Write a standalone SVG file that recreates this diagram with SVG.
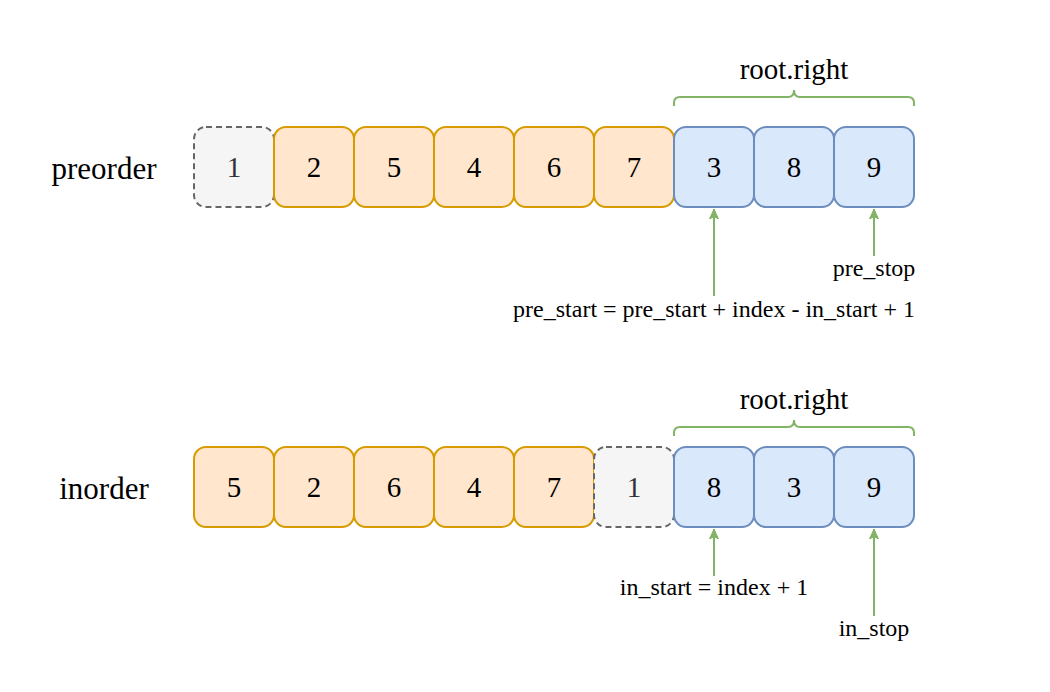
<svg xmlns="http://www.w3.org/2000/svg" width="1050" height="692" viewBox="0 0 1050 692">
<style>
text{font-family:"Liberation Serif","DejaVu Serif","Times New Roman",serif;fill:#000;text-anchor:middle;dominant-baseline:central}
.n{font-size:29px}
.lab{font-size:31px}
.br{font-size:29px}
.t{font-size:24px}
.o{fill:#ffe6cc;stroke:#d79b00;stroke-width:2}
.b{fill:#dae8fc;stroke:#6c8ebf;stroke-width:2}
.g{fill:#f5f5f5;stroke:#666666;stroke-width:2;stroke-dasharray:6 4}
.gt{fill:#333}
.c{fill:none;stroke:#82b366;stroke-width:2}
</style>
<defs>
<marker id="ah" markerWidth="12" markerHeight="12" refX="10" refY="5" orient="auto" markerUnits="userSpaceOnUse" viewBox="0 0 12 10">
<path d="M0,0.5 L10,5 L0,9.5 L2.5,5 Z" fill="#82b366" stroke="#82b366" stroke-width="1"/>
</marker>
</defs>
<rect width="1050" height="692" fill="#fff"/>
<text class="lab" x="104" y="168">preorder</text>
<text class="lab" x="104" y="488">inorder</text>
<g id="pre1"><rect class="g" x="194" y="127" width="80" height="80" rx="12"/><text class="n gt" x="234" y="167">1</text></g>
<g id="pre2"><rect class="o" x="274" y="127" width="80" height="80" rx="12"/><text class="n" x="314" y="167">2</text></g>
<g id="pre5"><rect class="o" x="354" y="127" width="80" height="80" rx="12"/><text class="n" x="394" y="167">5</text></g>
<g id="pre4"><rect class="o" x="434" y="127" width="80" height="80" rx="12"/><text class="n" x="474" y="167">4</text></g>
<g id="pre6"><rect class="o" x="514" y="127" width="80" height="80" rx="12"/><text class="n" x="554" y="167">6</text></g>
<g id="pre7"><rect class="o" x="594" y="127" width="80" height="80" rx="12"/><text class="n" x="634" y="167">7</text></g>
<g id="pre3"><rect class="b" x="674" y="127" width="80" height="80" rx="12"/><text class="n" x="714" y="167">3</text></g>
<g id="pre8"><rect class="b" x="754" y="127" width="80" height="80" rx="12"/><text class="n" x="794" y="167">8</text></g>
<g id="pre9"><rect class="b" x="834" y="127" width="80" height="80" rx="12"/><text class="n" x="874" y="167">9</text></g>
<g id="in5"><rect class="o" x="194" y="447" width="80" height="80" rx="12"/><text class="n" x="234" y="487">5</text></g>
<g id="in2"><rect class="o" x="274" y="447" width="80" height="80" rx="12"/><text class="n" x="314" y="487">2</text></g>
<g id="in6"><rect class="o" x="354" y="447" width="80" height="80" rx="12"/><text class="n" x="394" y="487">6</text></g>
<g id="in4"><rect class="o" x="434" y="447" width="80" height="80" rx="12"/><text class="n" x="474" y="487">4</text></g>
<g id="in7"><rect class="o" x="514" y="447" width="80" height="80" rx="12"/><text class="n" x="554" y="487">7</text></g>
<g id="in1"><rect class="g" x="594" y="447" width="80" height="80" rx="12"/><text class="n gt" x="634" y="487">1</text></g>
<g id="in8"><rect class="b" x="674" y="447" width="80" height="80" rx="12"/><text class="n" x="714" y="487">8</text></g>
<g id="in3"><rect class="b" x="754" y="447" width="80" height="80" rx="12"/><text class="n" x="794" y="487">3</text></g>
<g id="in9"><rect class="b" x="834" y="447" width="80" height="80" rx="12"/><text class="n" x="874" y="487">9</text></g>
<g id="brace-pre">
<path class="c" d="M674,106 L674,103 Q674,97 680,97 L788,97 Q794,97 794,90 Q794,97 800,97 L908,97 Q914,97 914,103 L914,106"/>
<text class="br" x="794" y="69">root.right</text>
</g>
<g id="brace-in">
<path class="c" d="M674,436 L674,433 Q674,427 680,427 L788,427 Q794,427 794,420 Q794,427 800,427 L908,427 Q914,427 914,433 L914,436"/>
<text class="br" x="794" y="399">root.right</text>
</g>
<g id="connectors">
<line class="c" x1="714" y1="296" x2="714" y2="209" marker-end="url(#ah)"/>
<line class="c" x1="874" y1="256" x2="874" y2="209" marker-end="url(#ah)"/>
<line class="c" x1="714" y1="576" x2="714" y2="529" marker-end="url(#ah)"/>
<line class="c" x1="874" y1="616" x2="874" y2="529" marker-end="url(#ah)"/>
</g>
<g id="labels">
<text class="t" x="714" y="309">pre_start = pre_start + index - in_start + 1</text>
<text class="t" x="874" y="268">pre_stop</text>
<text class="t" x="714" y="587">in_start = index + 1</text>
<text class="t" x="874" y="628">in_stop</text>
</g>
</svg>
